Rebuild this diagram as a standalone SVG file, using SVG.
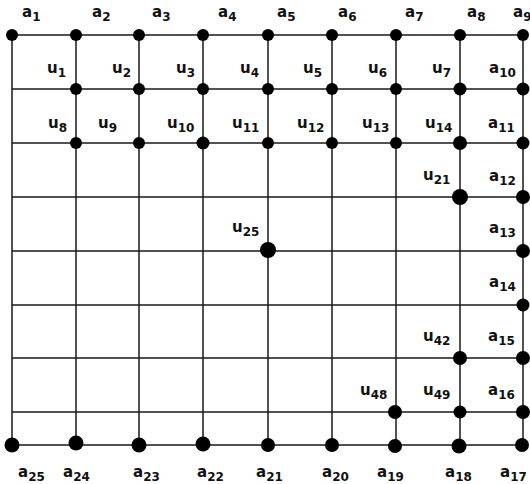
<svg xmlns="http://www.w3.org/2000/svg" width="530" height="484" viewBox="0 0 530 484">
<style>
.ln{stroke:#1a1a1a;stroke-width:1.5;fill:none}
.d{fill:#000}
text{font-family:"DejaVu Sans",Verdana,sans-serif;font-weight:bold;font-size:15px;fill:#111}
.s{font-size:12px}
</style>
<rect width="530" height="484" fill="#fff"/>
<g id="connectors" class="ln">
<path d="M12 35H523M12 89H523M12 143H523M12 197H523M12 251H523M12 305H523M12 358H523M12 412H523M12 445H523"/>
<path d="M12 35V445M76 35V445M139 35V445M203 35V445M268 35V445M332 35V445M396 35V445M460 35V445M523 35V445"/>
</g>
<g id="a1"><circle class="d" cx="12" cy="35" r="6"/><text x="22" y="17">a<tspan class="s" dy="4">1</tspan></text></g>
<g id="a2"><circle class="d" cx="76" cy="35" r="6"/><text x="92" y="17">a<tspan class="s" dy="4">2</tspan></text></g>
<g id="a3"><circle class="d" cx="139" cy="35" r="6"/><text x="152" y="17">a<tspan class="s" dy="4">3</tspan></text></g>
<g id="a4"><circle class="d" cx="203" cy="35" r="6"/><text x="218" y="17">a<tspan class="s" dy="4">4</tspan></text></g>
<g id="a5"><circle class="d" cx="268" cy="35" r="6"/><text x="277" y="17">a<tspan class="s" dy="4">5</tspan></text></g>
<g id="a6"><circle class="d" cx="332" cy="35" r="6"/><text x="338" y="17">a<tspan class="s" dy="4">6</tspan></text></g>
<g id="a7"><circle class="d" cx="396" cy="35" r="6"/><text x="405" y="17">a<tspan class="s" dy="4">7</tspan></text></g>
<g id="a8"><circle class="d" cx="460" cy="35" r="6"/><text x="467" y="17">a<tspan class="s" dy="4">8</tspan></text></g>
<g id="a9"><circle class="d" cx="523" cy="35" r="6"/><text x="513" y="17">a<tspan class="s" dy="4">9</tspan></text></g>
<g id="u1"><circle class="d" cx="76" cy="89" r="6"/><text x="47" y="73">u<tspan class="s" dy="4">1</tspan></text></g>
<g id="u2"><circle class="d" cx="139" cy="89" r="6"/><text x="112" y="73">u<tspan class="s" dy="4">2</tspan></text></g>
<g id="u3"><circle class="d" cx="203" cy="89" r="6"/><text x="176" y="73">u<tspan class="s" dy="4">3</tspan></text></g>
<g id="u4"><circle class="d" cx="268" cy="89" r="6"/><text x="240" y="73">u<tspan class="s" dy="4">4</tspan></text></g>
<g id="u5"><circle class="d" cx="332" cy="89" r="6"/><text x="303" y="73">u<tspan class="s" dy="4">5</tspan></text></g>
<g id="u6"><circle class="d" cx="396" cy="89" r="6"/><text x="368" y="73">u<tspan class="s" dy="4">6</tspan></text></g>
<g id="u7"><circle class="d" cx="460" cy="89" r="6.5"/><text x="432" y="73">u<tspan class="s" dy="4">7</tspan></text></g>
<g id="a10"><circle class="d" cx="523" cy="89" r="6.5"/><text x="489" y="73">a<tspan class="s" dy="4">10</tspan></text></g>
<g id="u8"><circle class="d" cx="76" cy="143" r="6"/><text x="48" y="128">u<tspan class="s" dy="4">8</tspan></text></g>
<g id="u9"><circle class="d" cx="139" cy="143" r="6"/><text x="98" y="128">u<tspan class="s" dy="4">9</tspan></text></g>
<g id="u10"><circle class="d" cx="203" cy="143" r="6.5"/><text x="167" y="128">u<tspan class="s" dy="4">10</tspan></text></g>
<g id="u11"><circle class="d" cx="268" cy="143" r="6"/><text x="232" y="128">u<tspan class="s" dy="4">11</tspan></text></g>
<g id="u12"><circle class="d" cx="332" cy="143" r="6"/><text x="297" y="128">u<tspan class="s" dy="4">12</tspan></text></g>
<g id="u13"><circle class="d" cx="396" cy="143" r="6"/><text x="362" y="128">u<tspan class="s" dy="4">13</tspan></text></g>
<g id="u14"><circle class="d" cx="460" cy="143" r="7"/><text x="425" y="128">u<tspan class="s" dy="4">14</tspan></text></g>
<g id="a11"><circle class="d" cx="523" cy="143" r="6.5"/><text x="488" y="128">a<tspan class="s" dy="4">11</tspan></text></g>
<g id="u21"><circle class="d" cx="460" cy="197" r="8"/><text x="423" y="180">u<tspan class="s" dy="4">21</tspan></text></g>
<g id="a12"><circle class="d" cx="523" cy="197" r="7"/><text x="489" y="181">a<tspan class="s" dy="4">12</tspan></text></g>
<g id="u25"><circle class="d" cx="268" cy="250" r="8"/><text x="232" y="232">u<tspan class="s" dy="4">25</tspan></text></g>
<g id="a13"><circle class="d" cx="523" cy="251" r="7"/><text x="489" y="233">a<tspan class="s" dy="4">13</tspan></text></g>
<g id="a14"><circle class="d" cx="523" cy="305" r="6.5"/><text x="489" y="287">a<tspan class="s" dy="4">14</tspan></text></g>
<g id="u42"><circle class="d" cx="460" cy="358" r="7"/><text x="423" y="341">u<tspan class="s" dy="4">42</tspan></text></g>
<g id="a15"><circle class="d" cx="523" cy="358" r="7"/><text x="488" y="341">a<tspan class="s" dy="4">15</tspan></text></g>
<g id="u48"><circle class="d" cx="395" cy="412" r="7"/><text x="360" y="395">u<tspan class="s" dy="4">48</tspan></text></g>
<g id="u49"><circle class="d" cx="460" cy="412" r="6.5"/><text x="423" y="395">u<tspan class="s" dy="4">49</tspan></text></g>
<g id="a16"><circle class="d" cx="523" cy="412" r="7"/><text x="488" y="395">a<tspan class="s" dy="4">16</tspan></text></g>
<g id="a25"><circle class="d" cx="12" cy="445" r="7.5"/><text x="18" y="477">a<tspan class="s" dy="4">25</tspan></text></g>
<g id="a24"><circle class="d" cx="76" cy="443" r="7.5"/><text x="63" y="477">a<tspan class="s" dy="4">24</tspan></text></g>
<g id="a23"><circle class="d" cx="139" cy="445" r="7.5"/><text x="133" y="477">a<tspan class="s" dy="4">23</tspan></text></g>
<g id="a22"><circle class="d" cx="203" cy="444" r="7.5"/><text x="197" y="477">a<tspan class="s" dy="4">22</tspan></text></g>
<g id="a21"><circle class="d" cx="268" cy="445" r="7"/><text x="256" y="477">a<tspan class="s" dy="4">21</tspan></text></g>
<g id="a20"><circle class="d" cx="332" cy="445" r="7"/><text x="322" y="477">a<tspan class="s" dy="4">20</tspan></text></g>
<g id="a19"><circle class="d" cx="395" cy="446" r="7"/><text x="377" y="477">a<tspan class="s" dy="4">19</tspan></text></g>
<g id="a18"><circle class="d" cx="459" cy="446" r="7.5"/><text x="445" y="477">a<tspan class="s" dy="4">18</tspan></text></g>
<g id="a17"><circle class="d" cx="522" cy="445" r="7"/><text x="500" y="477">a<tspan class="s" dy="4">17</tspan></text></g>
</svg>
